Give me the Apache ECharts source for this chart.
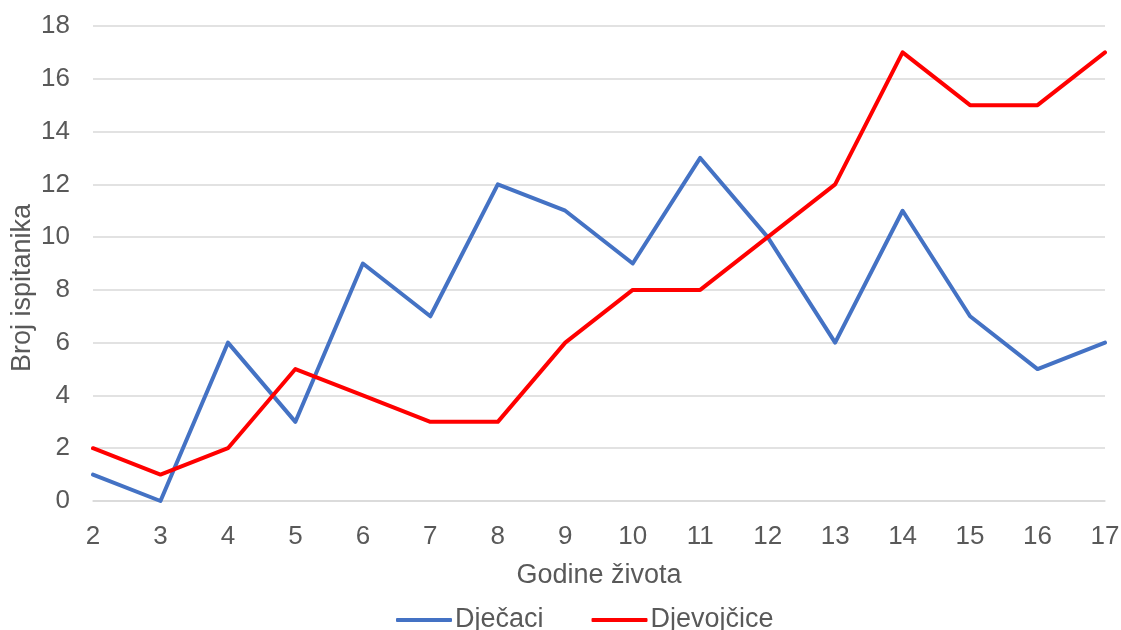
<!DOCTYPE html>
<html>
<head>
<meta charset="utf-8">
<script src="https://cdn.jsdelivr.net/npm/echarts@6/dist/echarts.min.js"></script>
<style>
  html, body { margin: 0; padding: 0; background: #fff; }
  #chart { width: 1121px; height: 630px; }
</style>
</head>
<body>
<div id="chart"></div>
<script>
let years = ['2', '3', '4', '5', '6', '7', '8', '9', '10', '11', '12', '13', '14', '15', '16', '17'];
let djecaci = [1, 0, 6, 3, 9, 7, 12, 11, 9, 13, 10, 6, 11, 7, 5, 6];
let djevojcice = [2, 1, 2, 5, 4, 3, 3, 6, 8, 8, 10, 12, 17, 15, 15, 17];

let chart = echarts.init(document.getElementById('chart'));
let font = 'Liberation Sans, Arial, sans-serif';
let gray = '#595959';

let conf = {
    animation: false,
    grid: { left: 93, right: 16, top: 26, bottom: 129, outerBoundsMode: 'none', containLabel: false },
    legend: {
        bottom: -8.5,
        left: 391,
        itemWidth: 56,
        itemHeight: 4,
        itemGap: 48,
        icon: 'roundRect',
        textStyle: { fontFamily: font, fontSize: 27, color: gray, padding: [0, 0, 0, -2] },
        data: ['Dječaci', 'Djevojčice']
    },
    xAxis: {
        type: 'category',
        data: years,
        boundaryGap: false,
        name: 'Godine života',
        nameLocation: 'middle',
        nameGap: 61,
        nameMoveOverlap: false,
        nameTextStyle: { fontFamily: font, fontSize: 27, color: gray },
        axisLine: { lineStyle: { color: '#d9d9d9', width: 1.5 } },
        axisTick: { show: false },
        axisLabel: { fontFamily: font, fontSize: 26, color: gray, margin: 23 }
    },
    yAxis: {
        type: 'value',
        min: 0,
        max: 18,
        interval: 2,
        name: 'Broj ispitanika',
        nameLocation: 'middle',
        nameGap: 57,
        nameMoveOverlap: false,
        nameTextStyle: { fontFamily: font, fontSize: 27, color: gray, padding: [0, 49, 0, 0] },
        axisLine: { show: false },
        axisTick: { show: false },
        axisLabel: { fontFamily: font, fontSize: 26, color: gray, margin: 23 },
        splitLine: { lineStyle: { color: '#d9d9d9', width: 1.5 } }
    },
    series: [
        {
            name: 'Dječaci',
            type: 'line',
            data: djecaci,
            symbol: 'none',
            color: '#4472c4',
            lineStyle: { width: 4, color: '#4472c4', cap: 'round', join: 'round' }
        },
        {
            name: 'Djevojčice',
            type: 'line',
            data: djevojcice,
            symbol: 'none',
            color: '#ff0000',
            lineStyle: { width: 4, color: '#ff0000', cap: 'round', join: 'round' }
        }
    ]
};

chart.setOption(conf);
</script>
</body>
</html>
